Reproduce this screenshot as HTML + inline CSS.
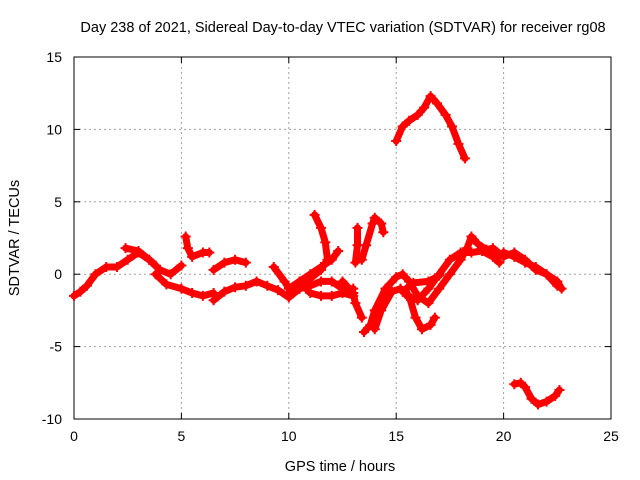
<!DOCTYPE html>
<html><head><meta charset="utf-8"><style>
body{margin:0;background:#fff;}
svg{display:block;font-family:"Liberation Sans",sans-serif;}
</style></head><body>
<svg id="chart" width="640" height="480" viewBox="0 0 640 480">
<rect width="640" height="480" fill="#fff"/>
<g id="grid"></g>
<g id="axes"></g>
<g id="series"></g>
<text x="343" y="32" font-size="14.5" text-anchor="middle">Day 238 of 2021, Sidereal Day-to-day VTEC variation (SDTVAR) for receiver rg08</text>
<text x="340" y="471" font-size="14.5" text-anchor="middle">GPS time / hours</text>
<text transform="translate(19,238) rotate(-90)" font-size="14.5" text-anchor="middle">SDTVAR / TECUs</text>
</svg>
<script>
const xTicks=[0,5,10,15,20,25];
const yTicks=[-10,-5,0,5,10,15];
const trackA=[[0,-1.5],[0.3,-1.2],[0.6,-0.8],[1,0],[1.5,0.5],[2,0.5],[2.5,1],[3,1.5],[3.5,1],[4,0.3],[4.5,0],[5,0.6]];
const trackB=[[2.4,1.8],[3,1.6],[3.5,1],[3.8,0.6]];
const trackC=[[3.8,0],[4.3,-0.7],[5,-1],[5.5,-1.3],[6,-1.5],[6.5,-1.3]];
const trackD=[[5.2,2.6],[5.3,1.8],[5.5,1.2],[6,1.5],[6.3,1.5]];
const trackE=[[6.5,-1.8],[7,-1.2],[7.5,-0.9],[8,-0.8],[8.5,-0.5],[9,-0.8],[9.5,-1.1],[10,-1.6],[10.5,-1],[11,-0.8],[11.5,-0.5],[12,-0.5],[12.5,-1],[13,-1]];
const trackF=[[6.5,0.3],[7,0.8],[7.5,1],[8,0.8]];
const trackG=[[9.3,0.5],[9.8,-0.5],[10.1,-1.2]];
const trackH=[[11.2,4.1],[11.5,3.2],[11.7,2.2],[11.8,1.0],[11.5,0.3],[11,-0.3],[10.5,-1],[10,-1.5]];
const trackI=[[10,-1],[10.5,-0.5],[11,0],[11.5,0.5],[12,1],[12.3,1.6]];
const trackJ=[[10.5,-0.5],[11,-1.3],[11.5,-1.5],[12,-1.5],[12.5,-1.3],[13,-1.5]];
const trackK=[[13.2,3.2],[13.2,2],[13.1,0.8]];
const trackL=[[13.4,1],[13.6,2],[13.9,3.5],[14,3.9],[14.3,3.5],[14.4,2.9]];
const trackM=[[12.5,-0.5],[13,-1.3],[13.1,-2],[13.4,-3]];
const trackN=[[13.5,-4],[13.8,-3.5],[14,-2.5],[14.5,-1],[15,-0.2],[15.3,0],[15.6,-0.5],[16,-1.5],[16.5,-2],[17,-1],[17.5,0],[18,1],[18.3,1.8],[18.5,2.6],[18.8,2.1],[19.2,1.7],[19.5,1.8],[20,1.2],[20.5,1.5],[21,1],[21.5,0.3],[22,0],[22.5,-0.5],[22.7,-1]];
const trackO=[[14,-3.8],[14.3,-2.5],[14.8,-1.2],[15.2,-1],[15.6,-1.5],[15.9,-3],[16.2,-3.8],[16.6,-3.5],[16.8,-3]];
const trackP=[[15.5,-1.5],[16,-1.8],[16.5,-1],[17,0],[17.5,1],[18,1.5],[18.5,1.5],[19,1.6],[19.5,1.2],[19.8,0.8]];
const trackQ=[[15.3,-1.2],[15.8,-0.6],[16.5,-0.5],[17,-0.1]];
const trackR=[[15,9.2],[15.3,10.2],[15.6,10.6],[16,11],[16.3,11.5],[16.6,12.3],[16.9,11.8],[17.3,11],[17.6,10.2],[17.9,9],[18.2,8]];
const trackS=[[20.5,-7.6],[20.8,-7.5],[21,-7.8],[21.3,-8.6],[21.6,-9],[22,-8.8],[22.4,-8.4],[22.6,-8]];
const trackT=[[20,1.5],[20.5,1.2],[21,0.8],[21.5,0.5],[22,0],[22.5,-0.8]];
const tracks=[trackA,trackB,trackC,trackD,trackE,trackF,trackG,trackH,trackI,trackJ,trackK,trackL,trackM,trackN,trackO,trackP,trackQ,trackR,trackS,trackT];

const X0=74,X1=611,Y0=419,Y1=57;
const sx=v=>X0+(v-0)/(25-0)*(X1-X0);
const sy=v=>Y0-(v+10)/(15+10)*(Y0-Y1);
const NS='http://www.w3.org/2000/svg';
function mk(tag,attrs,parent){const e=document.createElementNS(NS,tag);for(const k in attrs)e.setAttribute(k,attrs[k]);parent.appendChild(e);return e;}
const grid=document.getElementById('grid'),axes=document.getElementById('axes'),ser=document.getElementById('series');
xTicks.forEach(t=>{
  const x=sx(t);
  if(t>0&&t<25){const l=mk('line',{x1:x,y1:Y0,x2:x,y2:Y1,stroke:'#a0a0a0','stroke-dasharray':'2,3'},grid);
  
  }
  mk('line',{x1:x,y1:Y0,x2:x,y2:Y0-6,stroke:'#000'},axes);
  mk('line',{x1:x,y1:Y1,x2:x,y2:Y1+6,stroke:'#000'},axes);
  const tx=mk('text',{x:x,y:Y0+22,'font-size':14,'text-anchor':'middle'},axes);tx.textContent=t;
  
  
});
yTicks.forEach(t=>{
  const y=sy(t);
  if(t>-10&&t<15){const l=mk('line',{x1:X0,y1:y,x2:X1,y2:y,stroke:'#a0a0a0','stroke-dasharray':'2,3'},grid);
  
  }
  mk('line',{x1:X0,y1:y,x2:X0+6,y2:y,stroke:'#000'},axes);
  mk('line',{x1:X1,y1:y,x2:X1-6,y2:y,stroke:'#000'},axes);
  const tx=mk('text',{x:X0-12,y:y+5,'font-size':14,'text-anchor':'end'},axes);tx.textContent=t;
  
  
});
const fr=mk('rect',{x:X0,y:Y1,width:X1-X0,height:Y0-Y1,fill:'none',stroke:'#000'},axes);


tracks.forEach(tr=>{
  const pts=tr.map(p=>sx(p[0]).toFixed(1)+','+sy(p[1]).toFixed(1)).join(' ');
  const pl=mk('polyline',{points:pts,fill:'none',stroke:'#f00','stroke-width':7,'stroke-linejoin':'round','stroke-linecap':'round'},ser);
  
  
  tr.forEach(p=>{
    const x=sx(p[0]),y=sy(p[1]);
    const m=mk('path',{d:`M${x-5},${y}h10M${x},${y-5}v10`,stroke:'#f00','stroke-width':2},ser);
    
    
  });
});
</script>
</body></html>
